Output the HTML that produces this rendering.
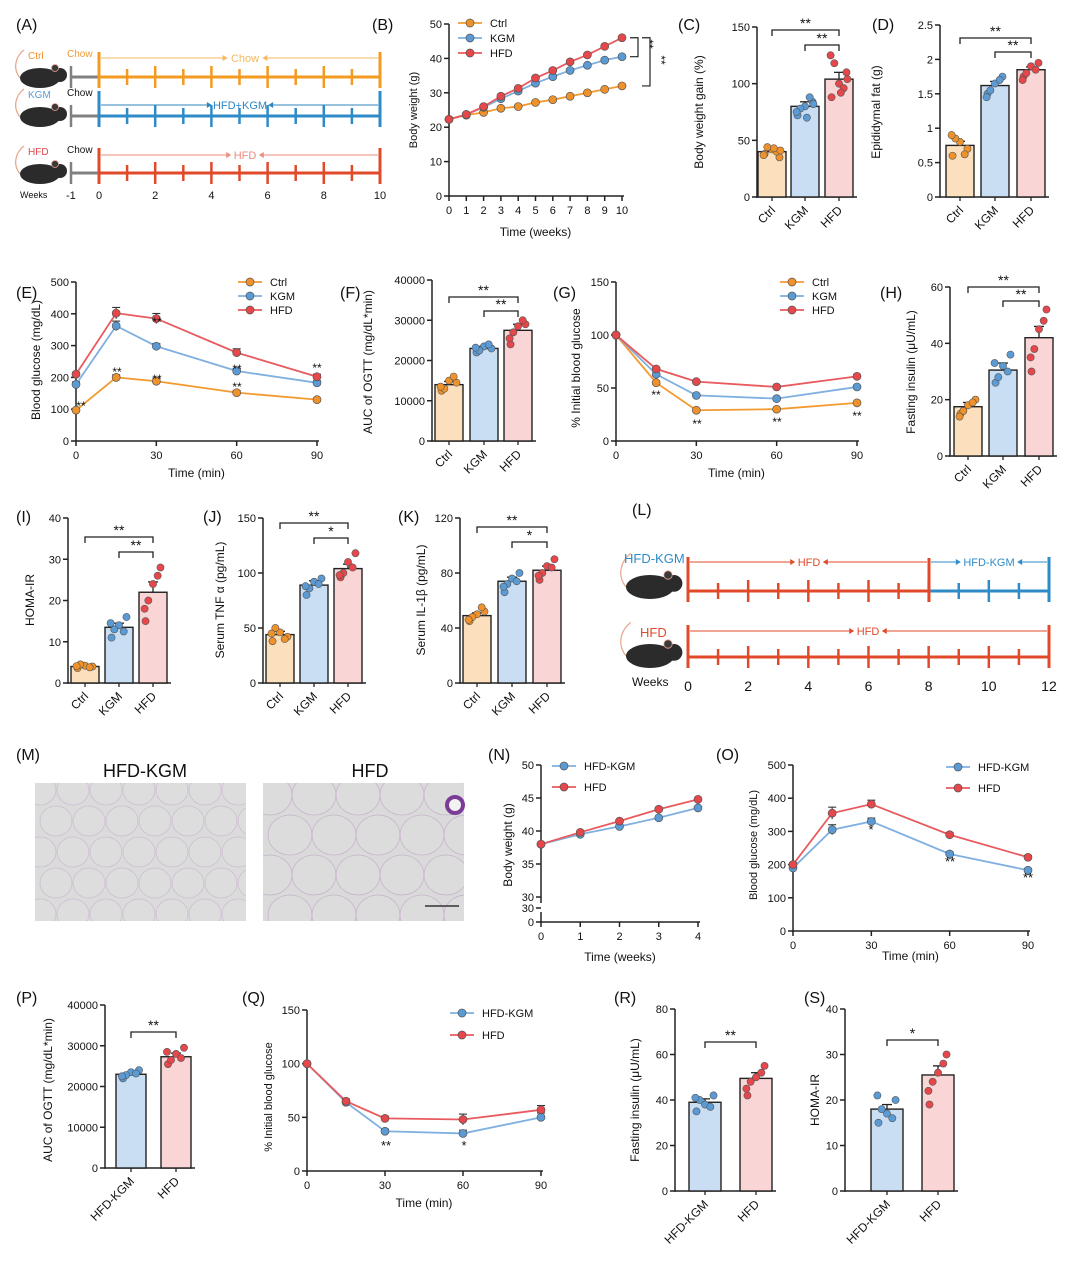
<!DOCTYPE html>
<html><head><meta charset="utf-8">
<style>
html,body{margin:0;padding:0;background:#fff;}
svg{display:block;font-family:"Liberation Sans",Arial,sans-serif;}
</style></head>
<body>
<svg id="fig" width="1080" height="1276" viewBox="0 0 1080 1276" xmlns="http://www.w3.org/2000/svg">
<rect width="1080" height="1276" fill="#fff"/>
</svg>
<script>
// ---------- DATA ----------
const weeksB = [0,1,2,3,4,5,6,7,8,9,10];
const bCtrl = [22.3,23.5,24.3,25.5,26,27.2,28,29,30,31,32];
const bKGM = [22.3,23.7,25.8,28.3,30.5,32.8,34.7,36.5,38,39.5,40.5];
const bHFD = [22.3,23.7,26,29,31.3,34.3,36.5,39,41,43.5,46];
const groups3 = ["Ctrl","KGM","HFD"];
const groups2 = ["HFD-KGM","HFD"];
const cVals = [40,80,104], cErr=[3,4,6];
const cDots = [[38,42,35,44,40,37,41,43],[72,80,84,78,88,75,82,70],[88,100,110,118,96,125,104,92]];
const dVals = [0.75,1.62,1.85], dErr=[0.06,0.06,0.04];
const dDots = [[0.6,0.8,0.7,0.85,0.62,0.9],[1.5,1.65,1.75,1.55,1.7,1.45],[1.75,1.9,1.95,1.8,1.85,1.7]];
const ogttTime = [0,15,30,60,90];
const eCtrl=[97,200,188,152,130], eKGM=[178,362,298,220,183], eHFD=[210,402,385,278,202];
const eErrC=[5,8,10,6,5], eErrK=[8,15,8,8,6], eErrH=[6,18,16,12,8];
const fVals=[14000,23000,27500], fErr=[800,500,1500];
const fDots=[[12500,15000,14500,13000,16000,13500],[22000,23500,23000,22500,24000,23200],[24000,28500,29000,27000,30000,25500]];
const gCtrl=[100,55,29,30,36], gKGM=[100,63,43,40,51], gHFD=[100,68,56,51,61];
const hVals=[17.5,30.5,42], hErr=[1.5,2.5,4];
const hDots=[[15,18,20,16,19,14],[26,32,36,28,30,33],[30,45,52,38,48,35]];
const iVals=[4,13.5,22], iErr=[0.3,1,2.5];
const iDots=[[3.6,4.2,4,4.5,3.8,4.1],[11,14,16,13,12.5,14.5],[15,24,28,20,26,18]];
const jVals=[44,89,104], jErr=[3,4,4];
const jDots=[[38,46,42,50,40,45],[80,92,95,86,90,88],[96,110,118,100,105,98]];
const kVals=[49,74,82], kErr=[2,3,3];
const kDots=[[45,50,52,48,55,46],[66,76,80,72,74,70],[75,85,90,80,84,78]];
const nWeeks=[0,1,2,3,4];
const nKGM=[38,39.5,40.7,42,43.5], nHFD=[38,39.8,41.5,43.3,44.8];
const oKGM=[190,305,330,232,183], oHFD=[200,355,382,290,222];
const pVals=[23000,27300], pErr=[500,900];
const pDots=[[22000,23500,24000,22800,23200,22500],[25500,28000,29500,26500,27000,28500]];
const qKGM=[100,64,37,35,50], qHFD=[100,65,49,48,57];
const rVals=[39,49.5], rErr=[1.5,2.5];
const rDots=[[35,38,42,40,37,41],[42,50,55,48,52,45]];
const sVals=[18,25.5], sErr=[1,2];
const sDots=[[15,17,20,18,16,21],[19,26,30,24,28,22]];

// ---------- HELPERS ----------
const NS="http://www.w3.org/2000/svg";
const fig=document.getElementById('fig');
const COL={Ctrl:"#F0922B",KGM:"#5B9BD5",HFD:"#E5474B","HFD-KGM":"#5B9BD5"};
const LINE={Ctrl:"#F39A30",KGM:"#7FB0E0",HFD:"#E95A5E","HFD-KGM":"#7FB0E0"};
const FILL={Ctrl:"#FCE0BD",KGM:"#C9DDF3",HFD:"#F9D5D5","HFD-KGM":"#C9DDF3"};
function el(tag,attrs,name,parent){
  const e=document.createElementNS(NS,tag);
  for(const k in attrs)e.setAttribute(k,attrs[k]);
  
  
  (parent||fig).appendChild(e);return e;
}
function txt(x,y,s,size,name,opt){
  opt=opt||{};
  const t=el('text',{x:x,y:y,'font-size':size,'text-anchor':opt.anchor||'middle',fill:opt.fill||'#111'},name);
  if(opt.rot!==undefined)t.setAttribute('transform','rotate('+opt.rot+' '+x+' '+y+')');
  t.textContent=s;return t;
}
function ln(x1,y1,x2,y2,c,w,name){return el('line',{x1:x1,y1:y1,x2:x2,y2:y2,stroke:c,'stroke-width':w},name);}
function panel(x,y,s){txt(x,y,s,16,'panel-label-'+s.replace(/[()]/g,'').toLowerCase(),{anchor:'start'});}
function yAxis(ax,y0,y1,min,max,ticks,fmt,name){
  const sy=v=>y0-(v-min)/(max-min)*(y0-y1);
  ln(ax,y0+0.7,ax,y1,'#222',1.5,name+'-y-axis');
  ticks.forEach(v=>{ln(ax-5,sy(v),ax,sy(v),'#222',1.5,name+'-y-tick');txt(ax-7,sy(v)+4,fmt?fmt(v):v,11,name+'-y-tick-label',{anchor:'end'});});
  return sy;
}
function bracket(x1,x2,y,s,name){
  el('path',{d:'M'+x1+' '+(y+6)+'V'+y+'H'+x2+'V'+(y+6),fill:'none',stroke:'#222','stroke-width':1.3},name+'-bracket');
  txt((x1+x2)/2,y-2,s,14,name+'-sig');
}
function barChart(o){
  const sy=yAxis(o.ax,o.y0,o.y1,0,o.max,o.ticks,null,o.name);
  const endX=o.centers[o.centers.length-1]+o.bw/2+4;
  ln(o.ax-0.7,o.y0,endX,o.y0,'#222',1.5,o.name+'-x-axis');
  const offs=[-8,0,8,-5,5,-9,9,2];
  o.groups.forEach((g,i)=>{
    const c=o.centers[i],v=o.vals[i];
    el('rect',{x:c-o.bw/2,y:sy(v),width:o.bw,height:o.y0-sy(v),fill:FILL[g],stroke:'#222','stroke-width':1.4},o.name+'-bar-'+g.toLowerCase());
    const e=o.errs[i];
    ln(c,sy(v+e),c,sy(v),'#222',1.3,o.name+'-error-bar');
    ln(c-5,sy(v+e),c+5,sy(v+e),'#222',1.3,o.name+'-error-cap');
    o.dots[i].forEach((d,j)=>el('circle',{cx:c+offs[j%offs.length]*o.bw/30,cy:sy(d),r:3.6,fill:COL[g],stroke:'#555','stroke-width':0.6},o.name+'-dot-'+g.toLowerCase()));
    ln(c,o.y0,c,o.y0+4,'#222',1.3,o.name+'-x-tick');
    txt(c+4,o.y0+14,g,12,o.name+'-x-label-'+g.toLowerCase(),{anchor:'end',rot:-45});
  });
  txt(o.ylx,o.yly,o.ylabel,12,o.name+'-y-axis-title',{rot:-90});
  (o.br||[]).forEach(b=>bracket(o.centers[b[0]],o.centers[b[1]],b[2],b[3],o.name));
}
function lineChart(o){
  const sy=yAxis(o.x0,o.y0,o.y1,o.ymin,o.ymax,o.yticks,null,o.name);
  const sx=v=>o.x0+(v-o.xmin)/(o.xmax-o.xmin)*(o.x1-o.x0);
  ln(o.x0-0.7,o.y0,o.x1+2,o.y0,'#222',1.5,o.name+'-x-axis');
  o.xticks.forEach(v=>{ln(sx(v),o.y0,sx(v),o.y0+5,'#222',1.5,o.name+'-x-tick');txt(sx(v),o.y0+18,v,11,o.name+'-x-tick-label');});
  txt((o.x0+o.x1)/2,o.y0+(o.xlo||36),o.xlabel,12,o.name+'-x-axis-title');
  txt(o.ylx,o.yly,o.ylabel,o.ylsize||12,o.name+'-y-axis-title',{rot:-90});
  o.series.forEach(s=>{
    const pts=o.xs.map((x,i)=>sx(x)+','+sy(s.vals[i])).join(' ');
    el('polyline',{points:pts,fill:'none',stroke:LINE[s.g],'stroke-width':1.8},o.name+'-line-'+s.g.toLowerCase());
    o.xs.forEach((x,i)=>{
      if(s.err){const e=s.err[i];ln(sx(x),sy(s.vals[i]-e),sx(x),sy(s.vals[i]+e),'#333',1.1,o.name+'-error-bar');ln(sx(x)-4,sy(s.vals[i]+e),sx(x)+4,sy(s.vals[i]+e),'#333',1.1,o.name+'-error-cap');}
      el('circle',{cx:sx(x),cy:sy(s.vals[i]),r:4,fill:COL[s.g],stroke:'#555','stroke-width':0.7},o.name+'-point-'+s.g.toLowerCase());
    });
  });
  o.series.forEach((s,i)=>{
    const ly=o.leg[1]+i*o.leg[2];
    ln(o.leg[0],ly,o.leg[0]+24,ly,LINE[s.g],1.8,o.name+'-legend-line');
    el('circle',{cx:o.leg[0]+12,cy:ly,r:4,fill:COL[s.g],stroke:'#555','stroke-width':0.7},o.name+'-legend-marker');
    txt(o.leg[0]+32,ly+4,s.g,11,o.name+'-legend-entry-'+s.g.toLowerCase(),{anchor:'start'});
  });
  return {sx:sx,sy:sy};
}
function mouse(x,y,s,name){
  el('path',{d:'M'+(x-20*s)+' '+(y)+'c'+(-8*s)+' '+(-10*s)+' '+(-4*s)+' '+(-22*s)+' '+(4*s)+' '+(-28*s),fill:'none',stroke:'#E7A58C','stroke-width':1.2},name+'-tail');
  el('ellipse',{cx:x,cy:y,rx:20*s,ry:10*s,fill:'#2b2b2b'},name+'-body');
  el('circle',{cx:x+20*s,cy:y-3*s,r:7*s,fill:'#2b2b2b'},name+'-head');
  el('circle',{cx:x+15*s,cy:y-10*s,r:3.5*s,fill:'#3a3a3a',stroke:'#e9a08f','stroke-width':0.8},name+'-ear');
}
function timeline(y,x0,x1,nW,segs,tall,name){
  const sx=w=>x0+w*(x1-x0)/nW;
  segs.forEach(sg=>ln(sx(sg[0]),y,sx(sg[1]),y,sg[2],3,name+'-timeline'));
  for(let w=0;w<=nW;w++){
    const c=segs.find(sg=>w>=sg[0]&&w<=sg[1])||segs[segs.length-1];
    const col=(w===nW)?segs[segs.length-1][2]:c[2];
    const h=(w===0||w===nW)?tall:(w%2===0?11:8);
    ln(sx(w),y-h,sx(w),w===0||w===nW?y+11:y+h,col,w===0||w===nW?3:2.5,name+'-week-tick');
  }
  return sx;
}
function arrowLine(x1,x2,y,col,label,lx,name){
  const g=label.length*3.6+8;
  ln(x1,y,lx-g,y,col,1.1,name+'-arrow-line');
  ln(lx+g,y,x2,y,col,1.1,name+'-arrow-line');
  el('path',{d:'M'+(lx-g)+' '+(y-3)+'l5 3l-5 3z',fill:col},name+'-arrowhead');
  el('path',{d:'M'+(lx+g)+' '+(y-3)+'l-5 3l5 3z',fill:col},name+'-arrowhead');
  txt(lx,y+4,label,11,name+'-label',{fill:col});
}

// ---------- (A) ----------
panel(16,30,'(A)');
const rowsA=[{g:'Ctrl',y:77,a:58,lab:'Chow',chow:'#F39A30'},{g:'KGM',y:116,a:105,lab:'HFD+KGM',chow:'#111'},{g:'HFD',y:173,a:155,lab:'HFD',chow:'#111'}];
const colA={Ctrl:'#F39A20',KGM:'#2E8BC8',HFD:'#E04A2A'};
rowsA.forEach(r=>{
  mouse(40,r.y+1,1.0,'mouse-'+r.g.toLowerCase());
  txt(28,r.y-18,r.g,10,'group-label-'+r.g.toLowerCase(),{anchor:'start',fill:COL[r.g]});
  ln(71,r.y-11,71,r.y+11,'#808080',2.5,'acclimation-tick');
  ln(71,r.y,99,r.y,'#808080',3,'acclimation-line');
  txt(67,r.y-20,'Chow',10,'chow-label',{anchor:'start',fill:r.chow});
  timeline(r.y,99,380,10,[[0,10,colA[r.g]]],25,'timeline-'+r.g.toLowerCase());
  arrowLine(101,378,r.a,r.g==='Ctrl'?'#F6B860':(r.g==='KGM'?'#2E86C1':'#EE8B7E'),r.lab,r.g==='KGM'?240:245,'diet-'+r.g.toLowerCase());
});
txt(20,198,'Weeks',9,'weeks-label',{anchor:'start'});
[-1,0,2,4,6,8,10].forEach(w=>txt(99+w*28.1,199,w,11,'week-label'));

// ---------- (B) ----------
panel(372,30,'(B)');
const B=lineChart({name:'body-weight',x0:449,x1:622,xmin:0,xmax:10,y0:196,y1:24,ymin:0,ymax:50,yticks:[0,10,20,30,40,50],xticks:weeksB,xs:weeksB,xlabel:'Time (weeks)',xlo:40,ylabel:'Body weight (g)',ylx:417,yly:110,ylsize:11,
  series:[{g:'Ctrl',vals:bCtrl},{g:'KGM',vals:bKGM},{g:'HFD',vals:bHFD}],leg:[458,23,15]});
el('path',{d:'M630 '+B.sy(46)+'h8V'+B.sy(40.5)+'h-8',fill:'none',stroke:'#222','stroke-width':1.2},'body-weight-bracket');
el('path',{d:'M642 '+B.sy(46)+'h8V'+B.sy(32)+'h-8',fill:'none',stroke:'#222','stroke-width':1.2},'body-weight-bracket');
txt(645,44,'**',12,'body-weight-sig',{rot:90});
txt(657,60,'**',12,'body-weight-sig',{rot:90});

// ---------- (C) ----------
panel(678,30,'(C)');
barChart({name:'weight-gain',ax:757,y0:197,y1:27,max:150,ticks:[0,50,100,150],groups:groups3,centers:[772,805,839],bw:28,vals:cVals,errs:cErr,dots:cDots,ylabel:'Body weight gain (%)',ylx:703,yly:112,br:[[0,2,30,'**'],[1,2,45,'**']]});
// ---------- (D) ----------
panel(872,30,'(D)');
barChart({name:'epididymal-fat',ax:940,y0:197,y1:25,max:2.5,ticks:[0,0.5,1,1.5,2,2.5],groups:groups3,centers:[960,995,1031],bw:28,vals:dVals,errs:dErr,dots:dDots,ylabel:'Epididymal fat (g)',ylx:880,yly:112,br:[[0,2,38,'**'],[1,2,52,'**']]});

// ---------- (E) ----------
panel(16,298,'(E)');
lineChart({name:'ogtt',x0:76,x1:317,xmin:0,xmax:90,y0:441,y1:282,ymin:0,ymax:500,yticks:[0,100,200,300,400,500],xticks:[0,30,60,90],xs:ogttTime,xlabel:'Time (min)',ylabel:'Blood glucose (mg/dL)',ylx:40,yly:360,
  series:[{g:'Ctrl',vals:eCtrl,err:eErrC},{g:'KGM',vals:eKGM,err:eErrK},{g:'HFD',vals:eHFD,err:eErrH}],leg:[238,282,14]});
[[81,410,'**'],[117,376,'**'],[157,383,'**'],[237,391,'**'],[317,372,'**'],[157,326,'**'],[237,373,'**']].forEach(s=>txt(s[0],s[1],s[2],12,'ogtt-sig'));
// ---------- (F) ----------
panel(340,298,'(F)');
barChart({name:'ogtt-auc',ax:432,y0:441,y1:280,max:40000,ticks:[0,10000,20000,30000,40000],groups:groups3,centers:[449,484,518],bw:28,vals:fVals,errs:fErr,dots:fDots,ylabel:'AUC of OGTT (mg/dL*min)',ylx:372,yly:362,br:[[0,2,297,'**'],[1,2,311,'**']]});
// ---------- (G) ----------
panel(553,298,'(G)');
lineChart({name:'itt',x0:616,x1:857,xmin:0,xmax:90,y0:441,y1:282,ymin:0,ymax:150,yticks:[0,50,100,150],xticks:[0,30,60,90],xs:ogttTime,xlabel:'Time (min)',ylabel:'% Initial blood glucose',ylx:580,yly:368,
  series:[{g:'Ctrl',vals:gCtrl},{g:'KGM',vals:gKGM},{g:'HFD',vals:gHFD}],leg:[780,282,14]});
[[656,399,'**'],[697,428,'**'],[777,426,'**'],[857,420,'**']].forEach(s=>txt(s[0],s[1],s[2],12,'itt-sig'));
// ---------- (H) ----------
panel(880,298,'(H)');
barChart({name:'fasting-insulin',ax:950,y0:456,y1:287,max:60,ticks:[0,20,40,60],groups:groups3,centers:[968,1003,1039],bw:28,vals:hVals,errs:hErr,dots:hDots,ylabel:'Fasting insulin (μU/mL)',ylx:915,yly:372,br:[[0,2,287,'**'],[1,2,301,'**']]});

// ---------- (I)(J)(K) ----------
panel(16,522,'(I)');
barChart({name:'homa-ir',ax:68,y0:683,y1:518,max:40,ticks:[0,10,20,30,40],groups:groups3,centers:[85,119,153],bw:28,vals:iVals,errs:iErr,dots:iDots,ylabel:'HOMA-IR',ylx:34,yly:600,br:[[0,2,537,'**'],[1,2,552,'**']]});
panel(203,522,'(J)');
barChart({name:'serum-tnf',ax:263,y0:683,y1:518,max:150,ticks:[0,50,100,150],groups:groups3,centers:[280,314,348],bw:28,vals:jVals,errs:jErr,dots:jDots,ylabel:'Serum TNF α (pg/mL)',ylx:224,yly:600,br:[[0,2,523,'**'],[1,2,538,'*']]});
panel(398,522,'(K)');
barChart({name:'serum-il1b',ax:460,y0:683,y1:518,max:120,ticks:[0,40,80,120],groups:groups3,centers:[477,512,547],bw:28,vals:kVals,errs:kErr,dots:kDots,ylabel:'Serum IL-1β (pg/mL)',ylx:425,yly:600,br:[[0,2,527,'**'],[1,2,542,'*']]});

// ---------- (L) ----------
panel(632,515,'(L)');
mouse(650,587,1.2,'mouse-hfd-kgm');
mouse(650,656,1.2,'mouse-hfd');
txt(624,563,'HFD-KGM',13,'group-label-hfd-kgm',{anchor:'start',fill:'#2E8BC8'});
txt(640,637,'HFD',13,'group-label-hfd',{anchor:'start',fill:'#E04A2A'});
timeline(591,688,1049,12,[[0,8,'#E04A2A'],[8,12,'#2E8BC8']],34,'timeline-hfd-kgm');
timeline(657,688,1049,12,[[0,12,'#E04A2A']],32,'timeline-hfd');
ln(929,558,929,602,'#E04A2A',3,'switch-tick');
arrowLine(690,927,562,'#E04A2A','HFD',809,'diet-hfd-phase');
arrowLine(931,1047,562,'#2E8BC8','HFD-KGM',989,'diet-kgm-phase');
arrowLine(690,1047,631,'#E04A2A','HFD',868,'diet-hfd');
txt(632,686,'Weeks',12,'weeks-label-l',{anchor:'start'});
[0,2,4,6,8,10,12].forEach(w=>txt(688+w*30.08,691,w,14,'week-label-l'));

// ---------- (M) ----------
panel(16,760,'(M)');
txt(145,777,'HFD-KGM',18,'histology-title-hfd-kgm');
txt(370,777,'HFD',18,'histology-title-hfd');
el('rect',{x:35,y:783,width:211,height:138,fill:'#dadbda'},'histology-image-hfd-kgm');
el('rect',{x:263,y:783,width:201,height:138,fill:'#d9dad9'},'histology-image-hfd');
const clip1=el('clipPath',{id:'c1'},'clip');el('rect',{x:35,y:783,width:211,height:138},'clip-rect',clip1);
const clip2=el('clipPath',{id:'c2'},'clip');el('rect',{x:263,y:783,width:201,height:138},'clip-rect',clip2);
const g1=el('g',{'clip-path':'url(#c1)'},'histology-cells-hfd-kgm');
const g2=el('g',{'clip-path':'url(#c2)'},'histology-cells-hfd');
for(let r=0;r<5;r++)for(let c=0;c<7;c++){
  el('ellipse',{cx:40+c*33+(r%2)*16,cy:790+r*31,rx:16,ry:15,fill:'#dcdddc',stroke:'#cdbdd2','stroke-width':0.8},'adipocyte',g1);
}
for(let r=0;r<4;r++)for(let c=0;c<5;c++){
  el('ellipse',{cx:270+c*44+(r%2)*20,cy:795+r*40,rx:22,ry:20,fill:'#dbdcdb',stroke:'#c9b3cd','stroke-width':0.8},'adipocyte',g2);
}
el('circle',{cx:455,cy:805,r:8,fill:'#f2f2f2',stroke:'#7b3c98','stroke-width':4},'vessel');
ln(425,906,459,906,'#333',1.5,'scale-bar');

// ---------- (N) ----------
panel(488,760,'(N)');
(function(){
  const ax=541, sx=v=>ax+v*(698-ax)/4, sy=v=>897-(v-30)*6.6;
  ln(ax,922,ax,912,'#222',1.5,'n-y-axis-lower');ln(ax,903,ax,765,'#222',1.5,'n-y-axis-upper');
  [[0,922],[30,908]].forEach(t=>{ln(ax-5,t[1],ax,t[1],'#222',1.5,'n-y-tick');txt(ax-7,t[1]+4,t[0],11,'n-y-tick-label',{anchor:'end'});});
  [30,35,40,45,50].forEach(v=>{ln(ax-5,sy(v),ax,sy(v),'#222',1.5,'n-y-tick');txt(ax-7,sy(v)+4,v,11,'n-y-tick-label',{anchor:'end'});});
  ln(ax-0.7,922,700,922,'#222',1.5,'n-x-axis');
  nWeeks.forEach(v=>{ln(sx(v),922,sx(v),927,'#222',1.5,'n-x-tick');txt(sx(v),940,v,11,'n-x-tick-label');});
  txt(620,961,'Time (weeks)',12,'n-x-axis-title');
  txt(512,845,'Body weight (g)',12,'n-y-axis-title',{rot:-90});
  [['HFD-KGM',nKGM],['HFD',nHFD]].forEach((s,k)=>{
    el('polyline',{points:nWeeks.map((w,i)=>sx(w)+','+sy(s[1][i])).join(' '),fill:'none',stroke:LINE[s[0]],'stroke-width':1.8},'n-line-'+s[0].toLowerCase());
    nWeeks.forEach((w,i)=>el('circle',{cx:sx(w),cy:sy(s[1][i]),r:4,fill:COL[s[0]],stroke:'#555','stroke-width':0.7},'n-point'));
    const ly=766+k*21;
    ln(552,ly,576,ly,LINE[s[0]],1.8,'n-legend-line');
    el('circle',{cx:564,cy:ly,r:4,fill:COL[s[0]],stroke:'#555','stroke-width':0.7},'n-legend-marker');
    txt(584,ly+4,s[0],11,'n-legend-entry',{anchor:'start'});
  });
})();
// ---------- (O) ----------
panel(716,760,'(O)');
lineChart({name:'ogtt-2',x0:793,x1:1028,xmin:0,xmax:90,y0:931,y1:765,ymin:0,ymax:500,yticks:[0,100,200,300,400,500],xticks:[0,30,60,90],xs:ogttTime,xlabel:'Time (min)',xlo:29,ylabel:'Blood glucose (mg/dL)',ylx:757,yly:845,ylsize:11,
  series:[{g:'HFD-KGM',vals:oKGM,err:[6,15,10,6,5]},{g:'HFD',vals:oHFD,err:[6,18,12,6,5]}],leg:[946,767,21]});
[[871,834,'*'],[950,866,'**'],[1028,882,'**']].forEach(s=>txt(s[0],s[1],s[2],13,'ogtt-2-sig'));

// ---------- (P) ----------
panel(16,1003,'(P)');
barChart({name:'ogtt-auc-2',ax:105,y0:1168,y1:1005,max:40000,ticks:[0,10000,20000,30000,40000],groups:groups2,centers:[131,176],bw:30,vals:pVals,errs:pErr,dots:pDots,ylabel:'AUC of OGTT (mg/dL*min)',ylx:52,yly:1090,br:[[0,1,1032,'**']]});
// ---------- (Q) ----------
panel(242,1003,'(Q)');
lineChart({name:'itt-2',x0:307,x1:541,xmin:0,xmax:90,y0:1171,y1:1010,ymin:0,ymax:150,yticks:[0,50,100,150],xticks:[0,30,60,90],xs:ogttTime,xlabel:'Time (min)',ylabel:'% Initial blood glucose',ylx:272,yly:1097,ylsize:11,
  series:[{g:'HFD-KGM',vals:qKGM,err:[0,2,2,3,4]},{g:'HFD',vals:qHFD,err:[0,2,2,5,4]}],leg:[450,1013,22]});
[[386,1150,'**'],[464,1150,'*']].forEach(s=>txt(s[0],s[1],s[2],13,'itt-2-sig'));
// ---------- (R) ----------
panel(614,1003,'(R)');
barChart({name:'fasting-insulin-2',ax:675,y0:1191,y1:1009,max:80,ticks:[0,20,40,60,80],groups:groups2,centers:[705,756],bw:32,vals:rVals,errs:rErr,dots:rDots,ylabel:'Fasting insulin (μU/mL)',ylx:639,yly:1100,br:[[0,1,1042,'**']]});
// ---------- (S) ----------
panel(804,1003,'(S)');
barChart({name:'homa-ir-2',ax:845,y0:1191,y1:1009,max:40,ticks:[0,10,20,30,40],groups:groups2,centers:[887,938],bw:32,vals:sVals,errs:sErr,dots:sDots,ylabel:'HOMA-IR',ylx:819,yly:1100,br:[[0,1,1040,'*']]});
</script>
</body></html>
